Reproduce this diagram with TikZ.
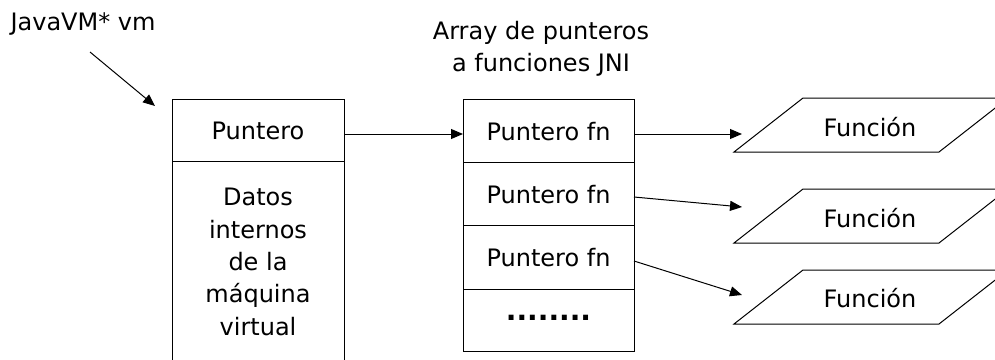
\documentclass[tikz,border=0pt]{standalone}
\usepackage{fontspec}
\setmainfont{DejaVu Sans}
\usetikzlibrary{arrows.meta}
\begin{document}
\begin{tikzpicture}[x=1pt,y=-1pt,line width=1pt,
  lbl/.style={font=\fontsize{24}{32.3}\selectfont,inner sep=0pt},
  cell/.style={draw,lbl,minimum width=171pt,text height=19pt,text depth=0pt,outer sep=0pt},
  arr/.style={-{Triangle[length=12pt,width=10pt]}},
  para/.style={draw}]
\clip (0,0) rectangle (995,359);
% pointer from JavaVM* vm
\node[lbl,anchor=base west] (jvm) at (10,30) {JavaVM* vm};
\coordinate (vmstart) at (90,52);
\coordinate (vmtip) at (155,106);
\draw[arr] (vmstart) -- (vmtip);
% VM structure
\node[cell,minimum width=172pt,minimum height=62pt] (ptr) at (258,130) {Puntero};
\draw (ptr.south west) -- ++(0,220);
\draw (ptr.south east) -- ++(0,220);
\node[lbl,align=center] (datos) at (258,262) {Datos\\internos\\de la\\máquina\\virtual};
% array of function pointers
\node[lbl,align=center] (title) at (541,49) {Array de punteros\\a funciones JNI};
\node[cell,minimum height=63pt] (c1) at (548.5,130.5) {Puntero fn};
\node[cell,minimum height=63pt] (c2) at (548.5,193.5) {Puntero fn};
\node[cell,minimum height=64pt] (c3) at (548.5,257) {Puntero fn};
\node[cell,minimum height=62pt,text height=0pt,font=\fontsize{28}{32}\bfseries] (c4) at (548.5,320) {........};
\draw[arr] ([yshift=-4pt]ptr.east) -- ([yshift=-3.5pt]c1.west);
% functions
\draw[para] (734,152) -- (939,152) -- (1008,98) -- (803,98) -- cycle;
\draw[para] (734,243) -- (939,243) -- (1008,189) -- (803,189) -- cycle;
\draw[para] (734,324) -- (939,324) -- (1008,270) -- (803,270) -- cycle;
\node[lbl,anchor=base] (f1) at (870,136) {Función};
\node[lbl,anchor=base] (f2) at (870,227) {Función};
\node[lbl,anchor=base] (f3) at (870,307) {Función};
\coordinate (t1) at (742,134);
\coordinate (t2) at (742,207);
\coordinate (t3) at (742,295);
\draw[arr] ([yshift=-3.5pt]c1.east) -- (t1);
\draw[arr] ([yshift=-3.5pt]c2.east) -- (t2);
\draw[arr] ([yshift=-4pt]c3.east) -- (t3);
\end{tikzpicture}
\end{document}
